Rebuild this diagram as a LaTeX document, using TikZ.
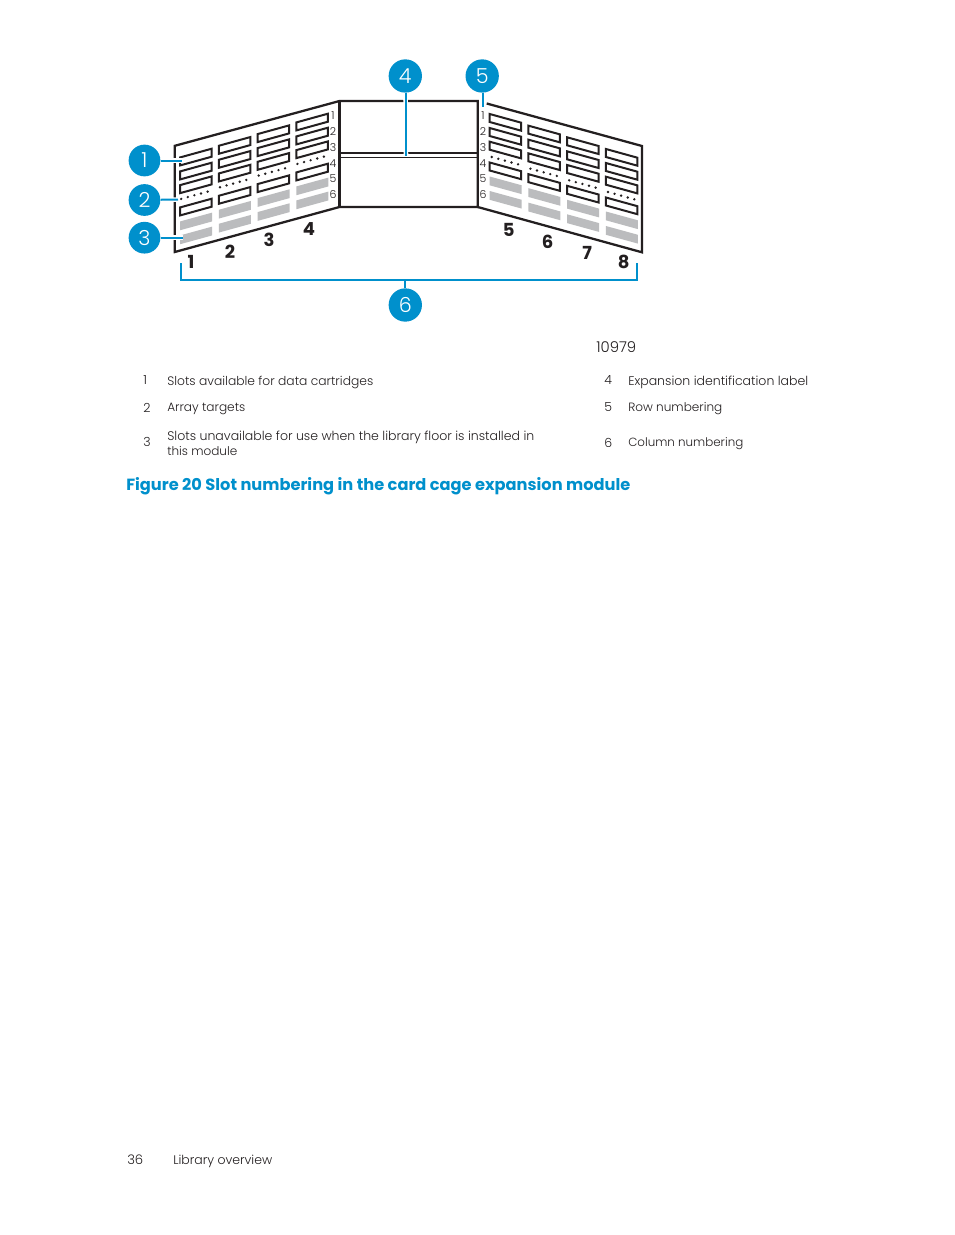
\documentclass[tikz,border=0pt]{standalone}
\usepackage{graphicx}
\usepackage{fontspec}
\setmainfont{Poppins}[UprightFont=* Light,BoldFont=* Bold]
\definecolor{hpblue}{HTML}{0090CC}
\definecolor{slotgray}{HTML}{BBBCBE}
\definecolor{ink}{HTML}{231F20}
\tikzset{
  panel/.style={draw=ink,line width=1.7pt,line join=miter},
  slotbox/.style={draw=ink,line width=1.5pt,fill=white},
  slotgrey/.style={fill=slotgray},
  callout/.style={circle,fill=hpblue,text=white,minimum size=25pt,inner sep=0pt,font=\fontsize{15.5}{16}\selectfont},
  calloutsmall/.style={callout,minimum size=23.8pt},
  leaderhalo/.style={draw=white,line width=3.4pt},
  leader/.style={draw=hpblue,line width=1.5pt},
  rownum/.style={inner sep=0pt,text=ink,font=\fontsize{8.2}{9}\selectfont},
  colnum/.style={inner sep=0pt,text=ink,font=\bfseries\fontsize{13.5}{14}\selectfont},
  legend/.style={inner sep=0pt,anchor=west,text=ink,font=\fontsize{9.4}{11}\selectfont},
  arraydot/.style={fill=ink,circle,inner sep=0pt,minimum size=2pt}
}
\newcommand{\fitw}[2]{\resizebox{\dimexpr #1pt*3/4\relax}{!}{#2}}
\newcommand{\cnum}[1]{\raisebox{-0.8pt}{#1}}
\begin{document}
\begin{tikzpicture}[x=0.75pt,y=-0.75pt]
\useasboundingbox[fill=white] (0,0) rectangle (954,1235);
% panels
\draw[panel] (174.8,145.8) -- (339.5,101) -- (477.7,101) -- (477.7,207) -- (339.5,207) -- (174.8,252) -- cycle;
\draw[panel] (339.5,101) -- (339.5,207);
\draw[panel] (486.7,103.5) -- (642,146) -- (642,252.3) -- (477.7,207);
\draw[draw=ink,line width=1.4pt] (339.5,153) -- (477.7,153);
\draw[draw=ink,line width=0.7pt] (339.5,157.5) -- (477.7,157.5);
% left slots
\foreach \c in {0,1,2,3}{
  \pgfmathsetmacro{\xa}{180.2+38.75*\c}
  \pgfmathsetmacro{\ya}{157.4-11.67*\c}
  \foreach \r in {0,14,27.7,50}{
    \draw[slotbox] (\xa,\ya+\r) -- ++(31.5,-8.7) -- ++(0,8) -- ++(-31.5,8.7) -- cycle;
  }
  \foreach \r in {64,78}{
    \fill[slotgrey] (\xa,\ya+\r) -- ++(32,-8.8) -- ++(0,8.8) -- ++(-32,8.8) -- cycle;
  }
  \foreach \d in {0,1,2,3,4}{
    \node[arraydot] at (\xa+1+6.6*\d,\ya+41.5-1.82*\d) {};
  }
}
% right slots
\foreach \c in {0,1,2,3}{
  \pgfmathsetmacro{\xa}{489.7+38.75*\c}
  \pgfmathsetmacro{\ya}{114+11.67*\c}
  \foreach \r in {0,14,27.7,48.5}{
    \draw[slotbox] (\xa,\ya+\r) -- ++(31.5,8.7) -- ++(0,8) -- ++(-31.5,-8.7) -- cycle;
  }
  \foreach \r in {62.5,77}{
    \fill[slotgrey] (\xa,\ya+\r) -- ++(32,8.8) -- ++(0,8.8) -- ++(-32,-8.8) -- cycle;
  }
  \foreach \d in {0,1,2,3,4}{
    \node[arraydot] at (\xa+2+6.6*\d,\ya+43+1.82*\d) {};
  }
}
% row numbers
\foreach \n/\y in {1/115.5,2/132,3/147.8,4/163.2,5/178.8,6/194.8}{
  \node[rownum] (rl\n) at (333,\y) {\n};
  \node[rownum] (rr\n) at (483,\y) {\n};
}
% column numbers
\foreach \n/\x/\y in {1/191/262,2/230/252,3/269/240.3,4/309/228.6,5/508.7/229.6,6/547.7/242,7/587.3/252.6,8/623.7/262}{
  \node[colnum] (col\n) at (\x,\y) {\n};
}
% callouts
\node[calloutsmall] (c1) at (144.5,160.5) {\cnum{1}};
\node[calloutsmall] (c2) at (144.5,200) {\cnum{2}};
\node[calloutsmall] (c3) at (144.5,237.7) {\cnum{3}};
\node[callout] (c4) at (405.3,76) {\cnum{4}};
\node[callout] (c5) at (482.2,76) {\cnum{5}};
\node[callout] (c6) at (405.3,305) {\cnum{6}};
\coordinate (e1) at (182,160.5);
\coordinate (e2) at (178,199.5);
\coordinate (e3) at (182.5,237.7);
\coordinate (e4) at (406,155.5);
\coordinate (e5) at (483,107);
\coordinate (bl) at (180.8,263);
\coordinate (br) at (637.3,263);
\coordinate (bm) at (405.3,280);
\draw[leaderhalo] (c1) -- (e1);
\draw[leaderhalo] (c2) -- (e2);
\draw[leaderhalo] (c3) -- (e3);
\draw[leaderhalo] (c4) -- (e4);
\draw[leaderhalo] (c5) -- (e5);
\draw[leader] (c1) -- (e1);
\draw[leader] (c2) -- (e2);
\draw[leader] (c3) -- (e3);
\draw[leader] (c4.south -| e4) -- (e4);
\draw[leader] (c5.south -| e5) -- (e5);
\draw[leader] (bl) -- (bl |- bm) -- (br |- bm) -- (br);
\draw[leader] (bm) -- (c6);
% text
\node[legend] (code) at (596,347.5) {\fitw{40}{10979}};
\node[legend] (n1) at (143,380.5) {1};
\node[legend] (t1) at (167,382) {\fitw{206}{Slots available for data cartridges}};
\node[legend] (n2) at (143,407.5) {2};
\node[legend] (t2) at (167,408.5) {\fitw{78}{Array targets}};
\node[legend] (n3) at (143,441.5) {3};
\node[legend] (t3a) at (167,437) {\fitw{367}{Slots unavailable for use when the library floor is installed in}};
\node[legend] (t3b) at (167,451) {\fitw{70}{this module}};
\node[legend] (n4) at (604,380.5) {4};
\node[legend] (t4) at (628,382) {\fitw{180}{Expansion identification label}};
\node[legend] (n5) at (604,407.5) {5};
\node[legend] (t5) at (628,408.5) {\fitw{94}{Row numbering}};
\node[legend] (n6) at (604,442.5) {6};
\node[legend] (t6) at (628,443.5) {\fitw{115}{Column numbering}};
\node[legend,text=hpblue,font=\bfseries\fontsize{11}{13}\selectfont] (cap) at (126,486.5) {\fitw{504}{Figure 20 Slot numbering in the card cage expansion module}};
\node[legend] (pg) at (127,1159.5) {\fitw{16}{36}};
\node[legend] (ft) at (173,1161.5) {\fitw{99}{Library overview}};
\end{tikzpicture}
\end{document}
